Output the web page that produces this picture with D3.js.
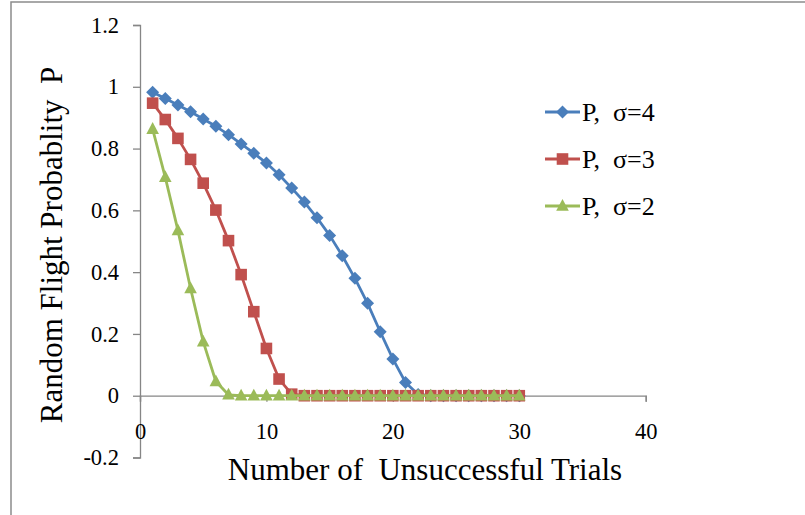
<!DOCTYPE html>
<html>
<head>
<meta charset="utf-8">
<script src="https://cdn.jsdelivr.net/npm/d3@7"></script>
<style>
  html, body { margin: 0; padding: 0; background: #fff; }
  svg { display: block; font-family: "Liberation Serif", "Times New Roman", serif; }
  text { white-space: pre; }
</style>
</head>
<body>
<svg id="chart" width="805" height="515"></svg>
<script>
// Number of unsuccessful trials (1..30)
const trials = [1,2,3,4,5,6,7,8,9,10,11,12,13,14,15,16,17,18,19,20,21,22,23,24,25,26,27,28,29,30];

// Random flight probability for each sigma
const pSigma4 = [0.982,0.962,0.941,0.919,0.896,0.872,0.845,0.815,0.785,0.753,0.715,0.672,0.627,0.576,0.519,0.453,0.380,0.299,0.207,0.119,0.043,0.004,0,0,0,0,0,0,0,0];
const pSigma3 = [0.947,0.894,0.833,0.765,0.688,0.601,0.502,0.392,0.272,0.153,0.054,0.005,0,0,0,0,0,0,0,0,0,0,0,0,0,0,0,0,0,0];
const pSigma2 = [0.863,0.707,0.535,0.347,0.175,0.046,0.003,0,0,0,0,0,0,0,0,0,0,0,0,0,0,0,0,0,0,0,0,0,0,0];

const seriesNames = ["P,  \u03c3=4", "P,  \u03c3=3", "P,  \u03c3=2"];
const seriesColors = ["#4a7ebb", "#c0504d", "#9bbb59"];
const seriesMarkers = ["diamond", "square", "triangle"];

const xTicks = [0, 10, 20, 30, 40];
const yTicks = [-0.2, 0, 0.2, 0.4, 0.6, 0.8, 1, 1.2];
const yTickLabels = ["-0.2", "0", "0.2", "0.4", "0.6", "0.8", "1", "1.2"];

const xTitle = "Number of  Unsuccessful Trials";
const yTitle = "Random Flight Probablity  P";

const svg = d3.select("#chart");

// chart frame (right and bottom edges run off the page)
svg.append("rect")
  .attr("x", 11).attr("y", 2)
  .attr("width", 820).attr("height", 540)
  .attr("fill", "none").attr("stroke", "#8c8c8c").attr("stroke-width", 1.5);

const x = d3.scaleLinear().domain([0, 40]).range([140, 645.7]);
const y = d3.scaleLinear().domain([-0.2, 1.2]).range([457.5, 25]);

const axisColor = "#868686";
const tickFont = 22.5;

// y axis on the left edge of the plot
const yAxis = d3.axisLeft(y).tickValues(yTicks)
  .tickFormat((d, i) => yTickLabels[i]).tickSizeOuter(0).tickSize(7).tickPadding(14);
const gy = svg.append("g").attr("transform", `translate(${x(0)},0)`).call(yAxis);
gy.select(".domain").attr("stroke", axisColor).attr("stroke-width", 1.3);
gy.selectAll(".tick line").attr("stroke", axisColor).attr("stroke-width", 1.3);
gy.selectAll(".tick text").attr("font-size", tickFont).attr("fill", "#000")
  .attr("font-family", "Liberation Serif, Times New Roman, serif");

// x axis crossing at P = 0
const xAxis = d3.axisBottom(x).tickValues(xTicks).tickSizeOuter(0).tickSize(6).tickPadding(21);
const gx = svg.append("g").attr("transform", `translate(0,${y(0)})`).call(xAxis);
gx.select(".domain").attr("stroke", axisColor).attr("stroke-width", 1.3);
gx.selectAll(".tick line").attr("stroke", axisColor).attr("stroke-width", 1.3);
gx.selectAll(".tick text").attr("font-size", tickFont).attr("fill", "#000")
  .attr("font-family", "Liberation Serif, Times New Roman, serif");

// marker shapes
function markerPath(kind) {
  if (kind === "diamond") return "M0,-6.5L6.5,0L0,6.5L-6.5,0Z";
  if (kind === "square") return "M-5.8,-5.8H5.8V5.8H-5.8Z";
  return "M0,-7L6.3,4.8H-6.3Z";
}

const seriesData = [pSigma4, pSigma3, pSigma2];
const line = d3.line().x(d => x(d[0])).y(d => y(d[1]));

seriesData.forEach((vals, s) => {
  const pts = trials.map((t, i) => [t, vals[i]]);
  const g = svg.append("g");
  g.append("path").datum(pts)
    .attr("d", line).attr("fill", "none")
    .attr("stroke", seriesColors[s]).attr("stroke-width", 2.8)
    .attr("stroke-linejoin", "round");
  g.selectAll("path.m").data(pts).enter().append("path")
    .attr("class", "m")
    .attr("transform", d => `translate(${x(d[0])},${y(d[1])})`)
    .attr("d", markerPath(seriesMarkers[s]))
    .attr("fill", seriesColors[s]);
});

// legend
const legendY = [112, 159, 206];
seriesNames.forEach((name, s) => {
  const g = svg.append("g").attr("transform", `translate(545,${legendY[s]})`);
  g.append("line").attr("x1", 0).attr("x2", 35).attr("y1", 0).attr("y2", 0)
    .attr("stroke", seriesColors[s]).attr("stroke-width", 2.8);
  g.append("path").attr("transform", "translate(17.5,0)")
    .attr("d", markerPath(seriesMarkers[s])).attr("fill", seriesColors[s]);
  g.append("text").attr("x", 37).attr("y", 0).attr("dy", "0.35em")
    .attr("font-size", 26).attr("fill", "#000").text(name);
});

// axis titles
svg.append("text")
  .attr("x", 425).attr("y", 469).attr("dy", "0.35em")
  .attr("text-anchor", "middle").attr("font-size", 31).attr("fill", "#000")
  .text(xTitle);

svg.append("text")
  .attr("transform", "translate(51,245) rotate(-90)")
  .attr("dy", "0.35em")
  .attr("text-anchor", "middle").attr("font-size", 31).attr("fill", "#000")
  .text(yTitle);
</script>
</body>
</html>
